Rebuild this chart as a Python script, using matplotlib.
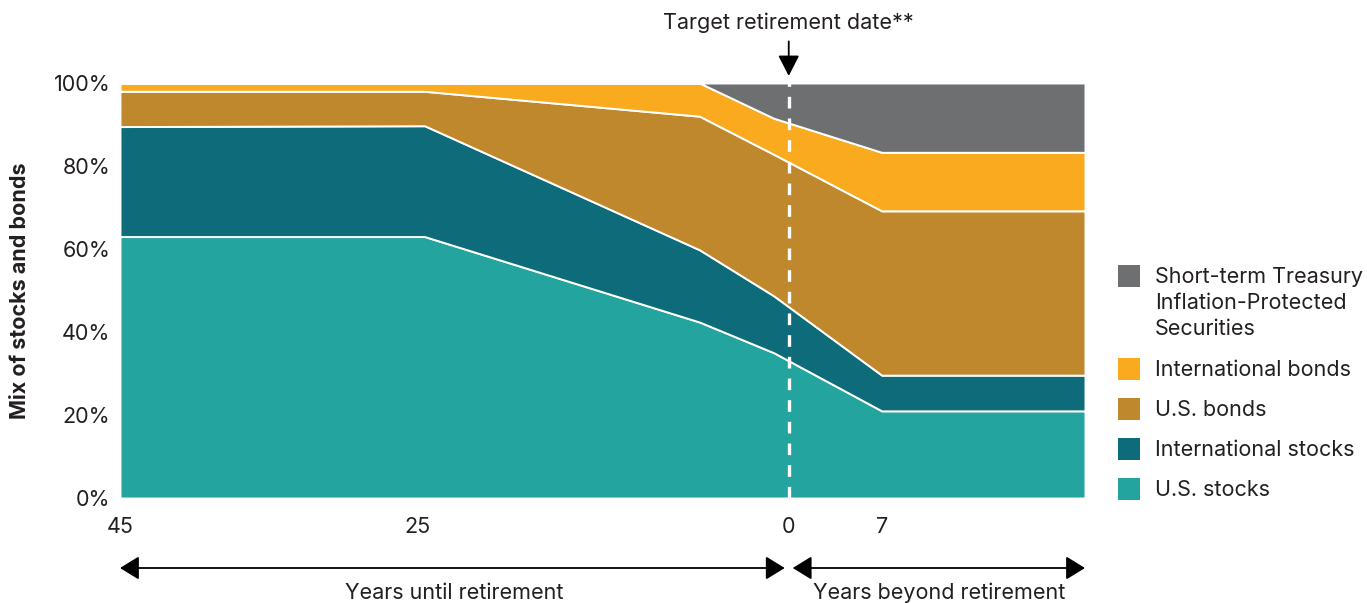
# Glide path chart: stacked asset mix by years to / beyond retirement
import numpy as np
import matplotlib
matplotlib.use('Agg')
import matplotlib.pyplot as plt
from matplotlib.patches import Rectangle

# Data (percent of portfolio)
years = [-45, -24.5, -6, -1, 7, 22.3]
us_stocks = [63, 63, 42.4, 35, 21, 21]
intl_stocks = [26.5, 26.7, 17.4, 13.7, 8.6, 8.6]
us_bonds = [8.5, 8.3, 32.2, 34.1, 39.6, 39.6]
intl_bonds = [2, 2, 8, 8.7, 14.1, 14.1]
tips = [0, 0, 0, 8.5, 16.7, 16.7]

series_labels = ['U.S. stocks', 'International stocks', 'U.S. bonds',
                 'International bonds',
                 'Short-term Treasury\nInflation-Protected\nSecurities']
colors = ['#23A49E', '#0D6B7A', '#C0882D', '#F9AA1E', '#6E6F71']

tick_pos = [-45, -25, 0, 7]
tick_labels = ['45', '25', '0', '7']
y_ticks = [0, 20, 40, 60, 80, 100]

txt_color = '#231f20'
fs = 15.5
plt.rcParams['font.family'] = ['Inter', 'DejaVu Sans']

W, H = 1367, 603
fig = plt.figure(figsize=(W / 100, H / 100), dpi=100)
ax = fig.add_axes([120 / W, 1 - 498 / H, 965 / W, 415 / H])

# years after retirement are drawn a bit more compressed than years before
k = 0.894
def fwd(x):
    x = np.asarray(x, dtype=float)
    return np.where(x > 0, x * k, x)
def inv(x):
    x = np.asarray(x, dtype=float)
    return np.where(x > 0, x / k, x)
ax.set_xscale('function', functions=(fwd, inv))

ax.stackplot(years, us_stocks, intl_stocks, us_bonds, intl_bonds, tips,
             colors=colors, edgecolor='white', linewidth=1.4)

ax.set_xlim(years[0], years[-1])
ax.set_ylim(0, 100)
for s in ax.spines.values():
    s.set_visible(False)

ax.set_yticks(y_ticks)
ax.set_yticklabels([f'{v}%' for v in y_ticks])
ax.set_xticks(tick_pos)
ax.set_xticklabels(tick_labels)
ax.tick_params(axis='both', length=0, labelsize=fs, colors=txt_color)
ax.tick_params(axis='y', pad=7)
ax.tick_params(axis='x', pad=14)
ax.set_ylabel('Mix of stocks and bonds', fontsize=fs, fontweight='bold',
              color=txt_color, labelpad=17)

# retirement date marker
ax.axvline(0, color='white', lw=2.4, dashes=(3.5, 3))
ax.annotate('Target retirement date**', xy=(0, 101.7), xytext=(0, 114.5),
            ha='center', va='center', fontsize=fs, color=txt_color,
            annotation_clip=False,
            arrowprops=dict(arrowstyle='-|>,head_length=0.7,head_width=0.36',
                            mutation_scale=18, color='black', lw=1.3,
                            shrinkA=4, shrinkB=0))

# bottom arrows
tr = ('data', 'figure fraction')
ya = 1 - 568 / H
arr = dict(arrowstyle='<|-|>,head_length=0.65,head_width=0.4',
           mutation_scale=18, color='black', lw=1.3, shrinkA=0, shrinkB=0)
ax.annotate('', xy=(-45, ya), xytext=(-0.27, ya), xycoords=tr, textcoords=tr,
            arrowprops=arr, annotation_clip=False)
ax.annotate('', xy=(0.3, ya), xytext=(years[-1], ya), xycoords=tr, textcoords=tr,
            arrowprops=arr, annotation_clip=False)
yt = 1 - 593 / H
ax.annotate('Years until retirement', xy=(-22.5, yt), xycoords=tr,
            ha='center', va='center', fontsize=fs, color=txt_color,
            annotation_clip=False)
ax.annotate('Years beyond retirement', xy=(11.3, yt), xycoords=tr,
            ha='center', va='center', fontsize=fs, color=txt_color,
            annotation_clip=False)

# legend drawn by hand so the square sits on the first text line
leg_y = [489, 449, 409, 369, 276]
for lab, col, py in zip(series_labels, colors, leg_y):
    fig.add_artist(Rectangle((1118 / W, 1 - (py + 11) / H), 22 / W, 22 / H,
                             transform=fig.transFigure, color=col, lw=0))
    fig.text(1155 / W, 1 - (py - 9) / H, lab, ha='left', va='top',
             fontsize=fs, color=txt_color, linespacing=1.38)

fig.savefig('out.png', dpi=100, facecolor='white')
